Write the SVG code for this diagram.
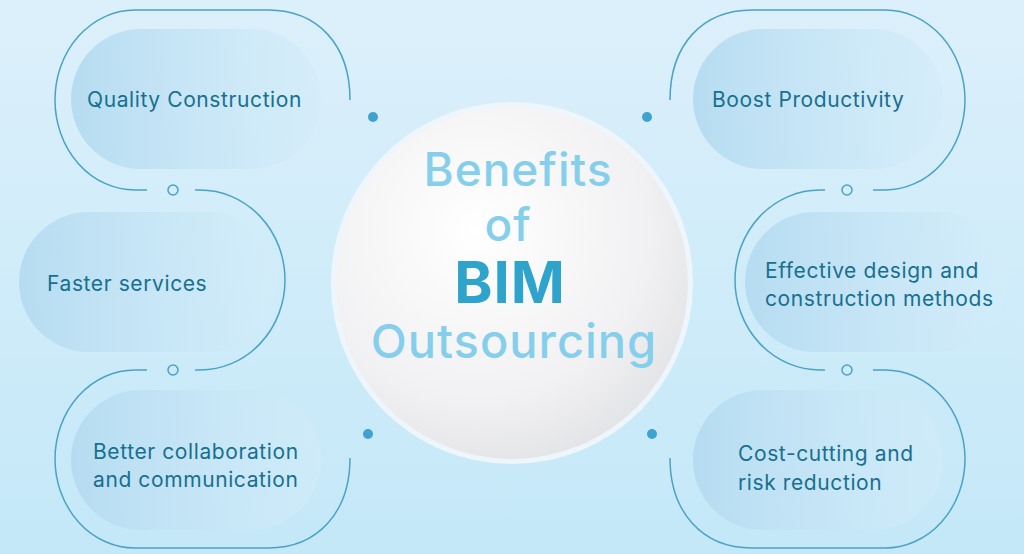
<svg xmlns="http://www.w3.org/2000/svg" width="1024" height="554" viewBox="0 0 1024 554">
<defs>
<linearGradient id="bg" x1="0" y1="0" x2="0" y2="1"><stop offset="0" stop-color="#dcf0fb"/><stop offset="1" stop-color="#c4e8f8"/></linearGradient>
<linearGradient id="pill" x1="0" y1="0" x2="1" y2="0"><stop offset="0" stop-color="#b6dcf1"/><stop offset="1" stop-color="#d3ecfa" stop-opacity="0.6"/></linearGradient>
<radialGradient id="ball" cx="0.4" cy="0.35" r="0.7"><stop offset="0" stop-color="#ffffff"/><stop offset="0.7" stop-color="#f1f1f3"/><stop offset="1" stop-color="#e2e3e6"/></radialGradient>
<style>
.o{fill:none;stroke:#4aa3c4;stroke-width:1.5}
.t{font-family:Inter,"Noto Sans",sans-serif;font-size:21px;letter-spacing:0.6px;fill:#17708f}
.c{font-family:Inter,"Noto Sans",sans-serif;text-anchor:middle;fill:#86cfec;font-weight:500;letter-spacing:1px}
.b{fill:#2ea3cb;font-weight:bold}
</style>
</defs>
<rect width="1024" height="554" fill="url(#bg)"/>
<g id="connectors">
<g id="leftlines">
<path class="o" d="M350,100 C350,45 318,10 268,10 L135,10 A80,90 0 0 0 55,100 A80,90 0 0 0 135,190 L147,190"/>
<path class="o" d="M195,190 L200,190 A85,90 0 0 1 285,280 A85,90 0 0 1 200,370 L195,370"/>
<path class="o" d="M147,370 L135,370 A80,89 0 0 0 55,459 A80,89 0 0 0 135,548 L268,548 C318,548 350,512 350,458"/>
<circle class="o" cx="173" cy="190" r="5"/><circle class="o" cx="173" cy="370" r="5"/>
<circle cx="373" cy="117" r="5" fill="#3fa3cf"/><circle cx="368" cy="434" r="5" fill="#3fa3cf"/>
</g>
<g id="rightlines" transform="translate(1020,0) scale(-1,1)">
<path class="o" d="M350,100 C350,45 318,10 268,10 L135,10 A80,90 0 0 0 55,100 A80,90 0 0 0 135,190 L147,190"/>
<path class="o" d="M195,190 L200,190 A85,90 0 0 1 285,280 A85,90 0 0 1 200,370 L195,370"/>
<path class="o" d="M147,370 L135,370 A80,89 0 0 0 55,459 A80,89 0 0 0 135,548 L268,548 C318,548 350,512 350,458"/>
<circle class="o" cx="173" cy="190" r="5"/><circle class="o" cx="173" cy="370" r="5"/>
<circle cx="373" cy="117" r="5" fill="#3fa3cf"/><circle cx="368" cy="434" r="5" fill="#3fa3cf"/>
</g>
</g>
<g id="n1"><rect x="71" y="29" width="250" height="140" rx="70" fill="url(#pill)"/><text class="t" x="87" y="107">Quality Construction</text></g>
<g id="n2"><rect x="19" y="212" width="258" height="140" rx="70" fill="url(#pill)"/><text class="t" x="47" y="291">Faster services</text></g>
<g id="n3"><rect x="71" y="390" width="250" height="140" rx="70" fill="url(#pill)"/><text class="t" x="93" y="459">Better collaboration</text><text class="t" x="93" y="487">and communication</text></g>
<g id="n4"><rect x="693" y="29" width="250" height="140" rx="70" fill="url(#pill)"/><text class="t" x="712" y="107">Boost Productivity</text></g>
<g id="n5"><rect x="745" y="212" width="262" height="140" rx="70" fill="url(#pill)"/><text class="t" x="765" y="278">Effective design and</text><text class="t" x="765" y="306">construction methods</text></g>
<g id="n6"><rect x="693" y="390" width="250" height="140" rx="70" fill="url(#pill)"/><text class="t" x="738" y="461">Cost-cutting and</text><text class="t" x="738" y="490">risk reduction</text></g>
<g id="center">
<circle cx="512" cy="283" r="181" fill="#eef6fb"/>
<circle cx="512" cy="283" r="176" fill="url(#ball)"/>
<text class="c" x="518" y="186" font-size="46">Benefits</text>
<text class="c" x="508" y="241" font-size="46">of</text>
<text class="c b" x="510" y="303" font-size="58">BIM</text>
<text class="c" x="514" y="358" font-size="47">Outsourcing</text>
</g>
</svg>
